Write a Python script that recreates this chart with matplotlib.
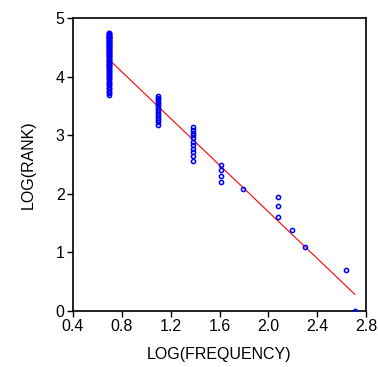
import numpy as np
import matplotlib.pyplot as plt

# word frequencies and how many words share each frequency (most frequent first)
frequency = [15, 14, 10, 9, 8, 6, 5, 4, 3, 2]
n_words = [1, 1, 1, 1, 3, 1, 4, 11, 16, 76]

# rank every word, then log both
freq_all = np.repeat(frequency, n_words)
rank_all = np.arange(1, len(freq_all) + 1)
log_freq = np.log(freq_all)
log_rank = np.log(rank_all)

slope, intercept = np.polyfit(log_freq, log_rank, 1)
xfit = np.array([log_freq.min(), log_freq.max()])

plt.rcParams['font.family'] = ['Liberation Sans', 'DejaVu Sans']
fig = plt.figure(figsize=(3.78, 3.67), dpi=100)
ax = fig.add_axes([73 / 378, 56 / 367, 293 / 378, 293 / 367])

ax.plot(xfit, intercept + slope * xfit, color='red', lw=0.8, zorder=2)
ax.plot(log_freq, log_rank, 'o', mfc='none', mec='blue', ms=3.0, mew=1.1,
        clip_on=True, zorder=3)

ax.set_xlim(0.4, 2.8)
ax.set_ylim(0, 5)
ax.set_xticks([0.4, 0.8, 1.2, 1.6, 2.0, 2.4, 2.8])
ax.set_yticks([0, 1, 2, 3, 4, 5])
ax.set_xticklabels(['0.4', '0.8', '1.2', '1.6', '2.0', '2.4', '2.8'])
ax.tick_params(direction='out', length=4, width=1, labelsize=11.5, pad=2)
for s in ax.spines.values():
    s.set_linewidth(1.2)

ax.set_xlabel('LOG(FREQUENCY)', fontsize=11.5, labelpad=9)
ax.set_ylabel('LOG(RANK)', fontsize=11.5, labelpad=14)

fig.savefig('out.png', dpi=100)
